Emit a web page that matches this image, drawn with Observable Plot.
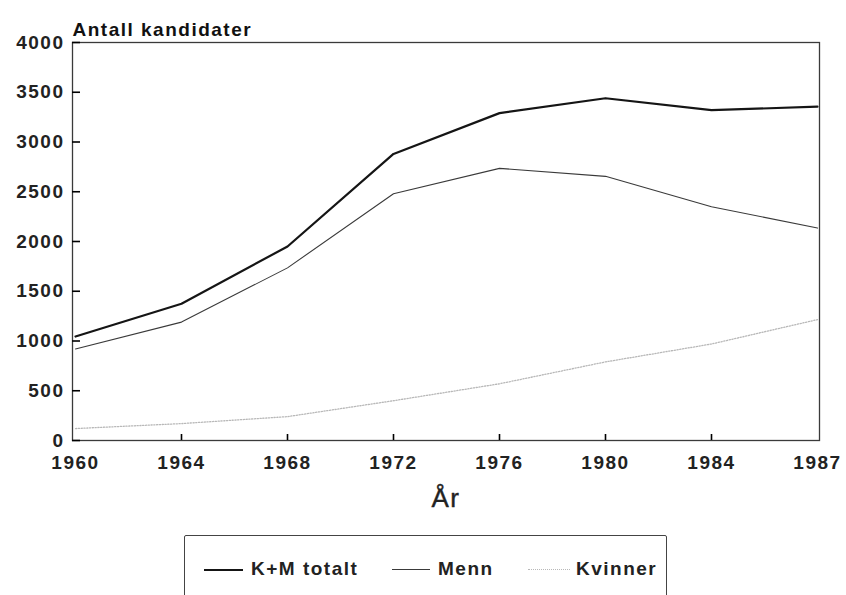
<!DOCTYPE html>
<html>
<head>
<meta charset="utf-8">
<script src="https://cdn.jsdelivr.net/npm/d3@7"></script>
<script src="https://cdn.jsdelivr.net/npm/@observablehq/plot@0.6"></script>
<style>
  html, body { margin: 0; padding: 0; background: #fff; overflow: hidden; }
  body { width: 846px; height: 595px; position: relative; font-family: "Liberation Sans", Arial, sans-serif; }
  #chart svg { font-family: "Liberation Sans", Arial, sans-serif; font-size: 19px; font-weight: bold; }
  #chart svg text { letter-spacing: 1.5px; }
  #legend { position: absolute; left: 184px; top: 535px; width: 483px; height: 80px; border: 1.5px solid #444; border-radius: 2px; box-sizing: border-box; }
  .item { position: absolute; top: 22px; font-size: 19px; font-weight: bold; letter-spacing: 1.5px; color: #222; }
  .swatch { position: absolute; top: 33px; height: 0; }
</style>
</head>
<body>
<div id="chart"></div>
<div id="legend"></div>
<script>
const years = ["1960", "1964", "1968", "1972", "1976", "1980", "1984", "1987"];
const total = [1045, 1375, 1950, 2880, 3290, 3440, 3320, 3355];
const menn = [920, 1190, 1735, 2480, 2735, 2655, 2350, 2135];
const kvinner = [120, 170, 240, 400, 570, 790, 970, 1215];
const yTicks = [0, 500, 1000, 1500, 2000, 2500, 3000, 3500, 4000];
const seriesNames = ["K+M totalt", "Menn", "Kvinner"];
const titleText = "Antall kandidater";
const xLabel = "År";

const rows = (vals) => years.map((y, i) => ({year: y, value: vals[i]}));

const styles = {
  "K+M totalt": {stroke: "#151515", strokeWidth: 2.2, dash: null},
  "Menn": {stroke: "#3a3a3a", strokeWidth: 1.1, dash: null},
  "Kvinner": {stroke: "#b8b8b8", strokeWidth: 1.3, dash: "1.2,1.6"}
};

const W = 846, H = 525, ML = 72, MR = 27, MT = 42, MB = 85;
const frameW = W - ML - MR, frameH = H - MT - MB;

const chart = Plot.plot({
  width: W,
  height: H,
  marginLeft: ML,
  marginRight: MR,
  marginTop: MT,
  marginBottom: MB,
  x: {type: "point", domain: years, padding: 0},
  y: {domain: [0, 4000]},
  marks: [
    Plot.frame({stroke: "#3a3a3a", strokeWidth: 1.3}),
    Plot.tickY(yTicks, {y: d => d, insetRight: frameW - 8, stroke: "black", strokeWidth: 1.6}),
    Plot.tickX(years.slice(1, -1), {x: d => d, insetTop: frameH - 6, stroke: "black", strokeWidth: 1.6}),
    Plot.axisY({ticks: yTicks, tickSize: 0, tickPadding: 8, tickFormat: d => String(d), label: null, fill: "#222"}),
    Plot.axisX({tickSize: 0, tickPadding: 15, label: null, fill: "#222"}),
    Plot.line(rows(kvinner), {x: "year", y: "value", stroke: styles["Kvinner"].stroke, strokeWidth: styles["Kvinner"].strokeWidth, strokeDasharray: styles["Kvinner"].dash}),
    Plot.line(rows(menn), {x: "year", y: "value", stroke: styles["Menn"].stroke, strokeWidth: styles["Menn"].strokeWidth}),
    Plot.line(rows(total), {x: "year", y: "value", stroke: styles["K+M totalt"].stroke, strokeWidth: styles["K+M totalt"].strokeWidth}),
    Plot.text([titleText], {frameAnchor: "top-left", dy: -20, textAnchor: "start", fontSize: 19, fontWeight: "bold", fill: "#111"}),
    Plot.text([xLabel], {frameAnchor: "bottom", dy: 66, fontSize: 26, fontWeight: "normal", fill: "#222", stroke: "#222", strokeWidth: 0.4})
  ]
});
document.getElementById("chart").appendChild(chart);

// legend
const legend = document.getElementById("legend");
const legendPos = [
  {sx: 19, sw: 39, tx: 66},
  {sx: 207, sw: 38, tx: 253},
  {sx: 343, sw: 42, tx: 391}
];
seriesNames.forEach((name, i) => {
  const st = styles[name];
  const sw = document.createElement("div");
  sw.className = "swatch";
  sw.style.left = legendPos[i].sx + "px";
  sw.style.width = legendPos[i].sw + "px";
  sw.style.borderTop = `${st.strokeWidth}px ${st.dash ? "dotted" : "solid"} ${st.stroke}`;
  legend.appendChild(sw);
  const tx = document.createElement("div");
  tx.className = "item";
  tx.style.left = legendPos[i].tx + "px";
  tx.textContent = name;
  legend.appendChild(tx);
});
</script>
</body>
</html>
